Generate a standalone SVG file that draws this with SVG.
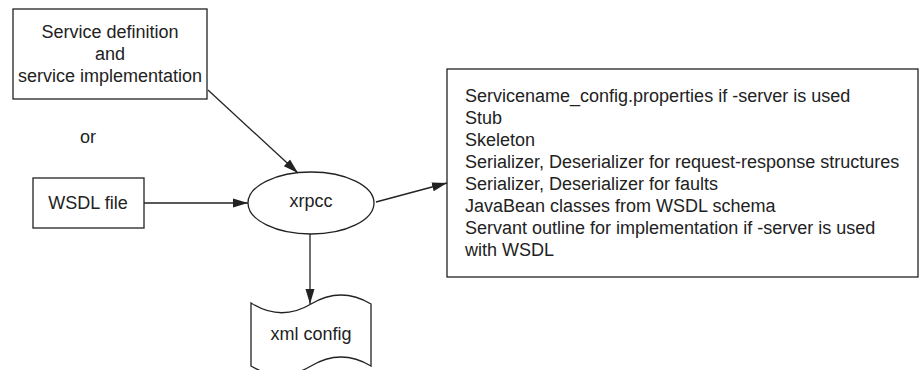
<svg xmlns="http://www.w3.org/2000/svg" width="919" height="370" viewBox="0 0 919 370">
<style>
.shape{fill:#fff;stroke:#222;stroke-width:1.3}
.t{font-family:"Liberation Sans",Arial,sans-serif;font-size:18px;fill:#222}
.c{text-anchor:middle}
.edge{stroke:#222;stroke-width:1.3;fill:none;marker-end:url(#arr)}
</style>
<defs>
<marker id="arr" markerUnits="userSpaceOnUse" markerWidth="16" markerHeight="10" refX="15" refY="5" orient="auto">
<path d="M0,0.5 L15,5 L0,9.5 Z" fill="#222"/>
</marker>
</defs>
<rect width="919" height="370" fill="#fff"/>
<g id="service-def">
<rect class="shape" x="13" y="9" width="194" height="90"/>
<text class="t c" x="110" y="38">Service definition</text>
<text class="t c" x="110" y="60">and</text>
<text class="t c" x="110" y="82">service implementation</text>
</g>
<g id="or-label">
<text class="t c" x="88" y="143">or</text>
</g>
<g id="wsdl">
<rect class="shape" x="33" y="178" width="111" height="50"/>
<text class="t c" x="88" y="209">WSDL file</text>
</g>
<g id="xrpcc">
<ellipse class="shape" cx="311" cy="203" rx="63" ry="31"/>
<text class="t c" x="311" y="207">xrpcc</text>
</g>
<g id="outputs">
<rect class="shape" x="447" y="69" width="471" height="208"/>
<text class="t" x="465" y="102">Servicename_config.properties if -server is used</text>
<text class="t" x="465" y="124">Stub</text>
<text class="t" x="465" y="146">Skeleton</text>
<text class="t" x="465" y="168">Serializer, Deserializer for request-response structures</text>
<text class="t" x="465" y="190">Serializer, Deserializer for faults</text>
<text class="t" x="465" y="212">JavaBean classes from WSDL schema</text>
<text class="t" x="465" y="234">Servant outline for implementation if -server is used</text>
<text class="t" x="465" y="256">with WSDL</text>
</g>
<g id="xml-config">
<path class="shape" d="M251,303 Q281,322 311,304 T371,304 L371,366 Q341,348 311,366 T251,366 Z"/>
<text class="t c" x="311" y="340">xml config</text>
</g>
<g id="connectors">
<line class="edge" x1="208" y1="90" x2="298" y2="173"/>
<line class="edge" x1="144" y1="203" x2="248" y2="203"/>
<line class="edge" x1="376" y1="202" x2="447" y2="183"/>
<line class="edge" x1="310" y1="234" x2="310" y2="304"/>
</g>
</svg>
